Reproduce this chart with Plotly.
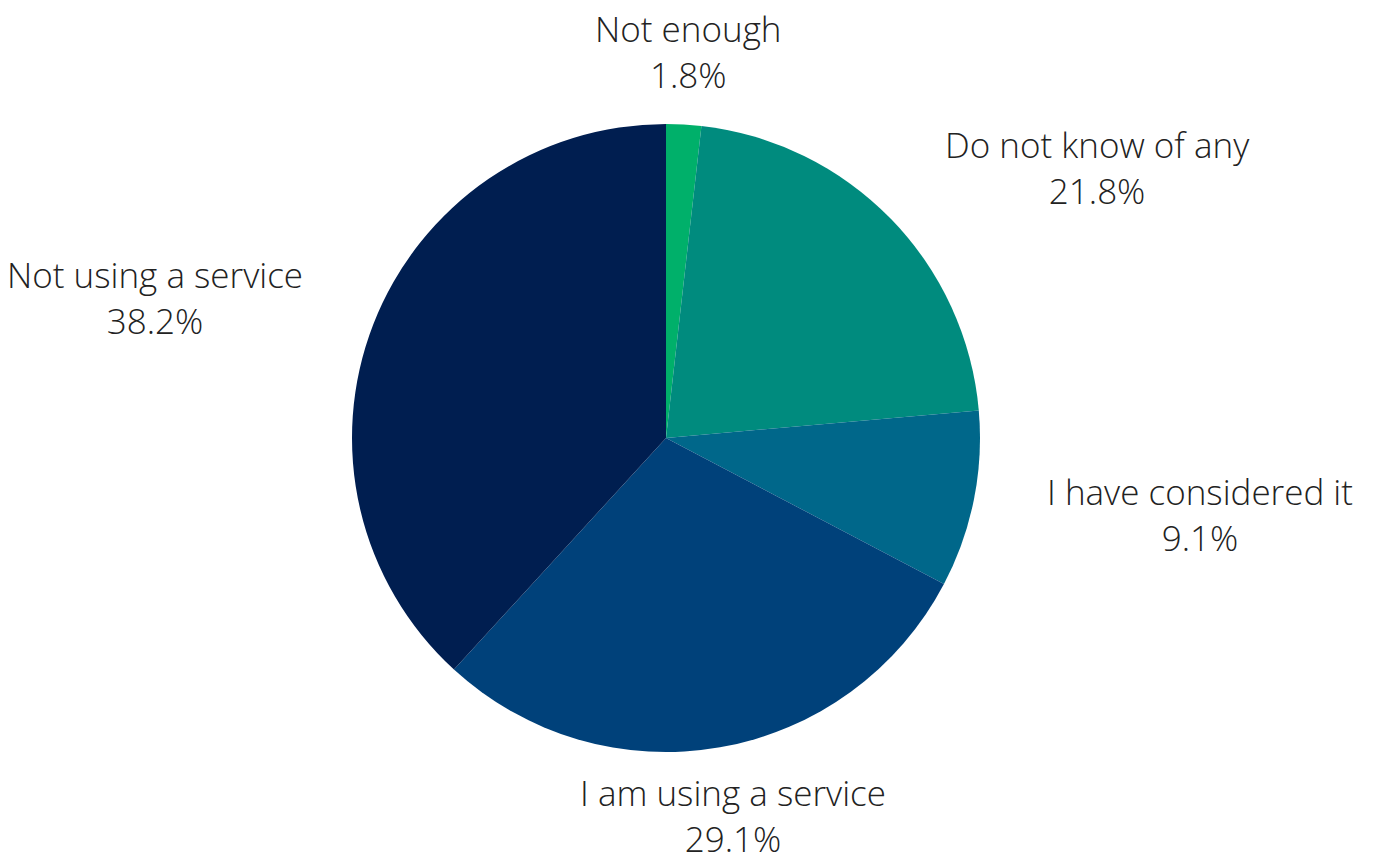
import math
import plotly.graph_objects as go

# Survey answers, in clockwise order from 12 o'clock
labels = ["Not enough", "Do not know of any", "I have considered it",
          "I am using a service", "Not using a service"]
values = [1.8, 21.8, 9.1, 29.1, 38.2]
colors = ["#00b06a", "#008b7e", "#00678a", "#00417a", "#001e50"]

W, H = 1373, 861
cx, cy, r = 666, 438, 314   # pie centre and radius in pixels
label_r = 387               # distance of label anchor from centre

fig = go.Figure(go.Pie(
    labels=labels,
    values=values,
    sort=False,
    direction="clockwise",
    rotation=0,
    marker=dict(colors=colors, line=dict(width=0)),
    textinfo="none",
    hoverinfo="label+percent",
    showlegend=False,
    domain=dict(x=[(cx - r) / W, (cx + r) / W], y=[1 - (cy + r) / H, 1 - (cy - r) / H]),
))

# Labels placed along each slice's mid-angle
total = sum(values)
cum = 0.0
annotations = []
for lab, v in zip(labels, values):
    mid = (cum + v / 2) / total * 2 * math.pi
    cum += v
    s, c = math.sin(mid), math.cos(mid)
    px = cx + label_r * s
    py = cy - label_r * c
    if abs(s) < 0.3:
        xa = "center"
    elif s > 0:
        xa = "left"
    else:
        xa = "right"
    # keep the bottom label inside the page
    ys = 4 if c < -0.9 else 0
    annotations.append(dict(
        x=px / W, y=1 - py / H, xref="paper", yref="paper",
        text=f"{lab}<br>{v:.1f}%", showarrow=False,
        xanchor=xa, yanchor="middle", align="center", yshift=ys,
        font=dict(family="Open Sans", size=35, color="#222222", weight=300),
    ))

fig.update_layout(
    width=W, height=H,
    margin=dict(l=0, r=0, t=0, b=0),
    paper_bgcolor="white",
    plot_bgcolor="white",
    annotations=annotations,
)

fig.write_html("out.html")
